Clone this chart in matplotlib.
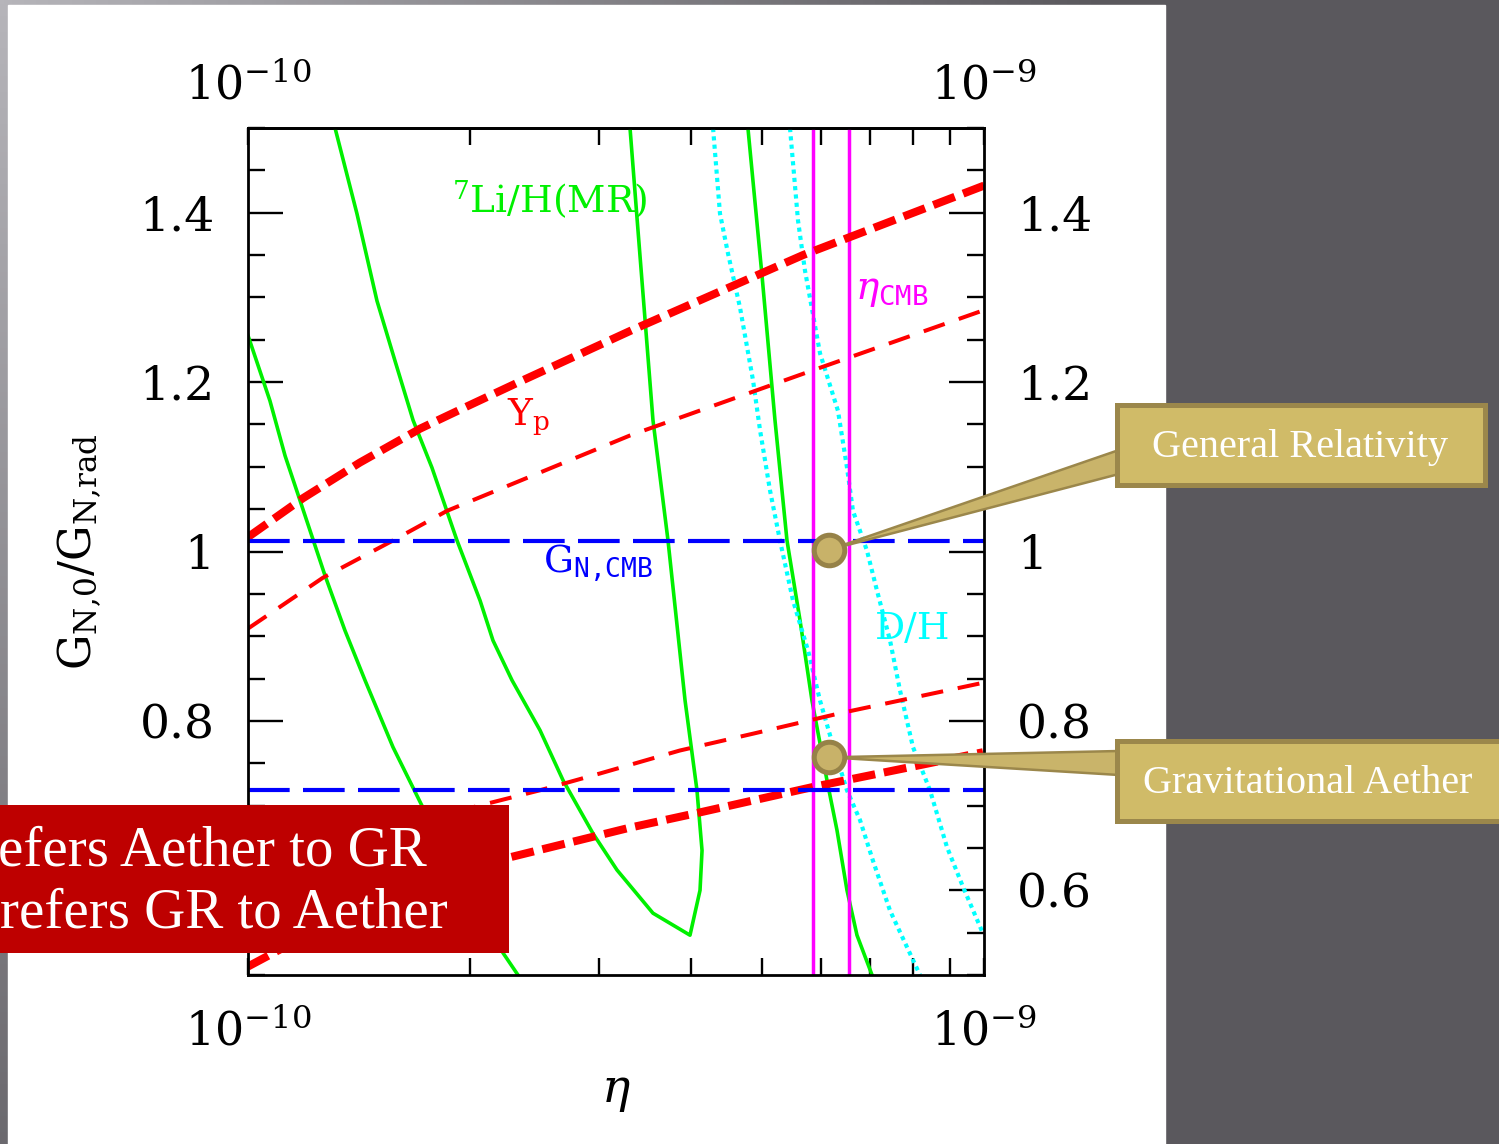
import numpy as np
import matplotlib.pyplot as plt
from matplotlib.patches import Rectangle, Polygon
from matplotlib.ticker import MultipleLocator, NullFormatter, NullLocator

plt.rcParams['font.family'] = 'DejaVu Serif'
plt.rcParams['mathtext.fontset'] = 'dejavuserif'

# eta in units of 1e-10, g = G_N,0 / G_N,rad

# 7Li/H (MR) contours
li_a_eta = [1.000, 1.071, 1.123, 1.177, 1.272, 1.354, 1.442, 1.574, 1.723, 1.941, 2.221, 2.327]
li_a_g = [1.255, 1.178, 1.113, 1.060, 0.972, 0.907, 0.848, 0.769, 0.700, 0.614, 0.526, 0.500]
li_b_eta = [1.313, 1.406, 1.497, 1.584, 1.676, 1.778, 1.923, 2.067, 2.152, 2.284, 2.493, 2.679,
            2.943, 3.172, 3.550, 3.986, 4.113, 4.139, 4.074, 3.925, 3.721, 3.550, 3.377, 3.304]
li_b_g = [1.500, 1.399, 1.296, 1.225, 1.155, 1.099, 1.013, 0.942, 0.895, 0.848, 0.789, 0.730,
          0.667, 0.624, 0.573, 0.547, 0.600, 0.647, 0.718, 0.824, 1.013, 1.155, 1.394, 1.500]
li_c_eta = [4.778, 4.993, 5.200, 5.399, 5.623, 5.838, 6.118, 6.313, 6.514, 6.721, 7.045]
li_c_g = [1.500, 1.326, 1.155, 1.013, 0.919, 0.824, 0.730, 0.671, 0.600, 0.547, 0.500]

# D/H contours
dh_a_eta = [4.284, 4.378, 4.489, 4.661, 4.855, 4.963, 5.120, 5.282, 5.502, 5.767, 5.987, 6.235,
            6.514, 6.784, 7.065, 7.453, 8.185]
dh_a_g = [1.500, 1.399, 1.352, 1.288, 1.202, 1.143, 1.072, 1.013, 0.942, 0.883, 0.824, 0.771,
          0.718, 0.683, 0.635, 0.576, 0.500]
dh_b_eta = [5.450, 5.588, 5.711, 5.987, 6.333, 6.514, 6.637, 6.934, 7.154, 7.453, 7.689, 8.008,
            8.446, 8.906, 9.365, 9.968]
dh_b_g = [1.500, 1.391, 1.332, 1.234, 1.166, 1.099, 1.048, 1.001, 0.954, 0.895, 0.836, 0.769,
          0.718, 0.651, 0.604, 0.549]

# Yp contours
yp_hi_thick_eta = [1.000, 1.188, 1.419, 1.713, 2.003, 2.320, 3.336, 5.677, 9.662, 10.0]
yp_hi_thick_g = [1.017, 1.063, 1.105, 1.145, 1.173, 1.199, 1.262, 1.350, 1.427, 1.432]
yp_hi_thin_eta = [1.000, 1.264, 1.574, 1.864, 3.304, 5.857, 10.0]
yp_hi_thin_g = [0.909, 0.969, 1.013, 1.048, 1.137, 1.214, 1.285]
yp_lo_thick_eta = [1.000, 1.19, 1.71, 2.270, 3.304, 4.113, 5.857, 9.968]
yp_lo_thick_g = [0.510, 0.545, 0.608, 0.639, 0.674, 0.692, 0.722, 0.763]
yp_lo_thin_eta = [1.0, 1.26, 1.57, 2.02, 2.49, 3.01, 3.86, 4.86, 6.37, 9.97]
yp_lo_thin_g = [0.594, 0.634, 0.664, 0.698, 0.718, 0.738, 0.765, 0.785, 0.809, 0.845]

eta_cmb = [5.857, 6.556]
g_cmb = [1.012, 0.718]

gr_point = (6.16, 1.002)
aether_point = (6.16, 0.757)

E = 1e-10
W, H = 1499, 1144
GREEN = '#00f000'

fig = plt.figure(figsize=(W / 100, H / 100), dpi=100, facecolor='#5a585d')

# slide backdrop
bg = fig.add_axes([0, 0, 1, 1], zorder=-10)
yy, xx = np.mgrid[0:H:4, 0:W:4]
t = np.clip(np.hypot(xx / 1100, yy / 1400), 0, 1)[..., None]
light = np.array([182, 181, 186]) / 255
dark = np.array([90, 88, 93]) / 255
bg.imshow(light + (dark - light) * t, extent=(0, W, H, 0), aspect='auto')
bg.add_patch(Rectangle((8, 5), 1157, H, color='white'))
bg.set_xlim(0, W)
bg.set_ylim(H, 0)
bg.axis('off')

# %% main plot
ax = fig.add_axes([248 / W, 1 - 975 / H, 736 / W, 847 / H], zorder=1)
ax.set_facecolor('white')

def sc(v):
    return [e * E for e in v]

ax.plot(sc(li_a_eta), li_a_g, color=GREEN, lw=2.6)
ax.plot(sc(li_b_eta), li_b_g, color=GREEN, lw=2.6)
ax.plot(sc(li_c_eta), li_c_g, color=GREEN, lw=2.6)

for e_, g_ in [(dh_a_eta, dh_a_g), (dh_b_eta, dh_b_g)]:
    ax.plot(sc(e_), g_, color='#00ffff', lw=3.0, dashes=(1, 1), dash_capstyle='butt')

for v in eta_cmb:
    ax.axvline(v * E, color='#ff00ff', lw=2.5)

ax.plot(sc(yp_hi_thick_eta), yp_hi_thick_g, color='red', lw=5.8, dashes=(2.85, 1.1),
        dash_capstyle='butt')
ax.plot(sc(yp_lo_thick_eta), yp_lo_thick_g, color='red', lw=5.8, dashes=(2.85, 1.1),
        dash_capstyle='butt')
ax.plot(sc(yp_hi_thin_eta), yp_hi_thin_g, color='red', lw=2.9, dashes=(5.5, 3.7),
        dash_capstyle='butt')
ax.plot(sc(yp_lo_thin_eta), yp_lo_thin_g, color='red', lw=2.9, dashes=(5.5, 3.7),
        dash_capstyle='butt')

for g in g_cmb:
    ax.axhline(g, color='blue', lw=3, dashes=(10, 3.2), dash_capstyle='butt')

ax.set_xscale('log')
ax.set_xlim(1e-10, 1e-9)
ax.set_ylim(0.5, 1.5)

xlabels = [r'$10^{-10}$', r'$10^{-9}$']
ax.set_xticks([1e-10, 1e-9], labels=xlabels)
ax.set_xticks([k * E for k in range(2, 10)], minor=True)
ax.xaxis.set_minor_formatter(NullFormatter())
ax.set_yticks([0.6, 0.8, 1.0, 1.2, 1.4], labels=['0.6', '0.8', '1', '1.2', '1.4'])
ax.yaxis.set_minor_locator(MultipleLocator(0.05))

ax.tick_params(axis='x', which='both', direction='in', top=True, bottom=True,
               labeltop=False, labelbottom=True, length=12.5, width=1.7, pad=25,
               labelsize=33)
ax.tick_params(axis='y', which='both', direction='in', left=True, right=True,
               labelleft=True, labelright=True, width=1.7, pad=24, labelsize=34)
ax.tick_params(axis='y', which='major', length=25)
ax.tick_params(axis='y', which='minor', length=12.5)
for s in ax.spines.values():
    s.set_linewidth(2)

# top labels sit a bit closer to the frame
top = ax.secondary_xaxis('top')
top.set_xticks([1e-10, 1e-9], labels=xlabels)
top.xaxis.set_minor_locator(NullLocator())
top.tick_params(axis='x', length=0, pad=13, labelsize=33)
top.spines['top'].set_linewidth(2)

ax.set_xlabel(r'$\eta$', fontsize=34, labelpad=10)
ax.set_ylabel(r'G$_{\mathrm{N{,}0}}$/G$_{\mathrm{N{,}rad}}$', fontsize=32, labelpad=26)

# curve labels
ax.text(1.893 * E, 1.399, r'$^{7}$Li/H(MR)', color=GREEN, fontsize=27, va='baseline')
ax.text(2.248 * E, 1.149, r'Y$_{\mathrm{p}}$', color='red', fontsize=27, va='baseline')
ax.text(6.68 * E, 1.2985, r'$\eta_{\mathtt{CMB}}$', color='#ff00ff', fontsize=28, va='baseline')
ax.text(2.516 * E, 0.974, r'G$_{\mathtt{N{,}CMB}}$', color='blue', fontsize=27, va='baseline')
ax.text(7.11 * E, 0.897, 'D/H', color='#00ffff', fontsize=27, va='baseline')

# %% slide overlay (pixel coordinates, y down)
ov = fig.add_axes([0, 0, 1, 1], zorder=5)
ov.set_xlim(0, W)
ov.set_ylim(H, 0)
ov.axis('off')
ov.set_facecolor('none')

def to_ov(p):
    d = ax.transData.transform((p[0] * E, p[1]))
    return ov.transData.inverted().transform(d)

tan_fill = '#d0bb68'
tan_edge = '#9b874b'
callouts = [(gr_point, 'General Relativity', (1117, 405, 368, 80), (450, 474), 457, 1300),
            (aether_point, 'Gravitational Aether', (1117, 741, 400, 80), (751, 775), 793, 1308)]
for pt, label, box, (w0, w1), base, cx in callouts:
    px, py = to_ov(pt)
    ov.add_patch(Polygon([(px, py), (box[0] + 2, w0), (box[0] + 2, w1)], closed=True,
                         facecolor='#c9b46a', edgecolor=tan_edge, lw=1.8, zorder=2))
    ov.add_patch(Rectangle(box[:2], box[2], box[3], facecolor=tan_fill, edgecolor=tan_edge,
                           lw=3.6, zorder=3))
    ov.plot(px, py, 'o', ms=22, mfc='#c8b269', mec='#968248', mew=3.6, zorder=4)
    ov.text(cx, base, label, color='white', fontsize=29, family='Liberation Serif',
            ha='center', va='baseline', zorder=5)

ov.add_patch(Rectangle((0, 805), 509, 148, facecolor='#be0000', edgecolor='none', zorder=6))
ov.text(-2, 865, 'efers Aether to GR', color='white', fontsize=41, family='Liberation Serif',
        va='baseline', zorder=7)
ov.text(0, 928, 'refers GR to Aether', color='white', fontsize=41, family='Liberation Serif',
        va='baseline', zorder=7)

fig.savefig('out.png', dpi=100, facecolor=fig.get_facecolor())
